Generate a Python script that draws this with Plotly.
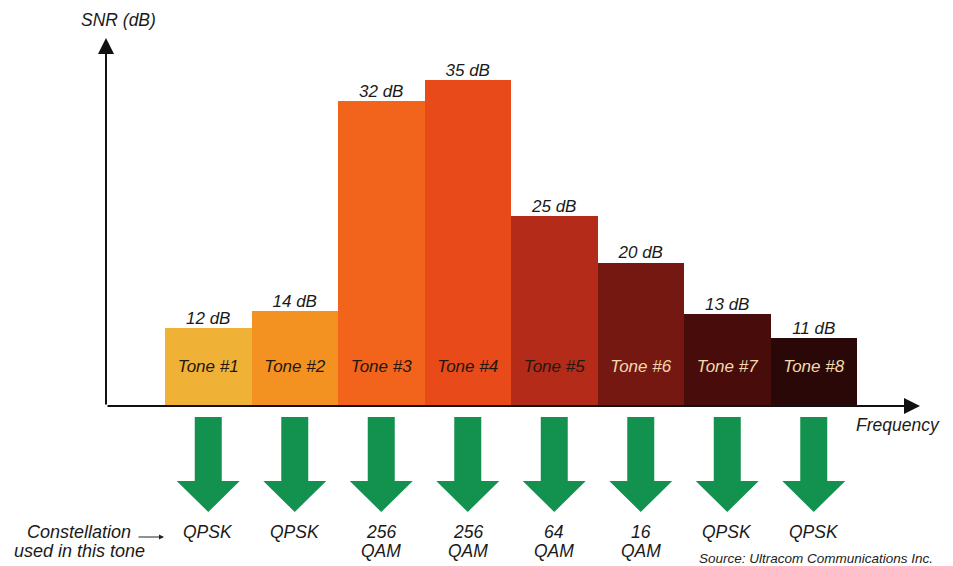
import plotly.graph_objects as go

# ---- data ----
tones = ["Tone #1", "Tone #2", "Tone #3", "Tone #4", "Tone #5", "Tone #6", "Tone #7", "Tone #8"]
snr_db = [12, 14, 32, 35, 25, 20, 13, 11]
# drawn bar heights as they appear in the picture (axis units, 35 dB bar = 35)
bar_height = [8.4, 10.2, 32.7, 35.0, 20.4, 15.4, 9.9, 7.3]
constellations = ["QPSK", "QPSK", "256 QAM", "256 QAM", "64 QAM", "16 QAM", "QPSK", "QPSK"]

# ---- styles ----
bar_colors = ["#efb136", "#f39221", "#f2631c", "#e84a19", "#b42b1a", "#741811", "#480d0a", "#2a0807"]
tone_text_colors = ["#24170f", "#24170f", "#24170f", "#24170f", "#24170f", "#f2d9ae", "#f2d9ae", "#f2d9ae"]
green = "#12914f"
FONT = "Liberation Sans, Arial, sans-serif"

x = list(range(len(tones)))
PLOT_H = 368.0   # plot height in px
PLOT_W = 814.0   # plot width in px
BODY = 8         # default page body margin


def py2paper(py):
    return (406.0 - py) / PLOT_H


def px2paper(px):
    return (px - 106.0) / PLOT_W


fig = go.Figure()

fig.add_trace(go.Bar(
    x=x, y=bar_height, width=1.0,
    marker=dict(color=bar_colors, line=dict(width=0)),
    hoverinfo="skip", showlegend=False,
))

# dB labels above the bars
fig.add_trace(go.Scatter(
    x=x, y=bar_height, mode="text",
    text=[f"{v} dB" for v in snr_db], textposition="top center",
    textfont=dict(family=FONT, size=17, color="#1a1a1a", style="italic"),
    cliponaxis=False, hoverinfo="skip", showlegend=False,
))

# tone labels inside the bars
tone_label_y = 4.08
fig.add_trace(go.Scatter(
    x=x, y=[tone_label_y] * len(x), mode="text",
    text=tones, textposition="middle center",
    textfont=dict(family=FONT, size=17, color=tone_text_colors, style="italic"),
    cliponaxis=False, hoverinfo="skip", showlegend=False,
))

shapes = []
annotations = []

# green down arrows under each tone
sh, hh = 0.156, 0.364
y_top, y_head, y_tip = py2paper(417), py2paper(481), py2paper(512)
for i in x:
    path = (f"M {i - sh},{y_top} L {i + sh},{y_top} L {i + sh},{y_head} "
            f"L {i + hh},{y_head} L {i},{y_tip} L {i - hh},{y_head} L {i - sh},{y_head} Z")
    shapes.append(dict(type="path", xref="x", yref="paper", path=path,
                       fillcolor=green, line=dict(width=0), layer="above"))

# constellation labels
for i, c in zip(x, constellations):
    parts = c.split(" ")
    for k, p in enumerate(parts):
        annotations.append(dict(
            x=i, y=py2paper(532 + 19 * k), xref="x", yref="paper",
            text=p, showarrow=False, xanchor="center", yanchor="middle",
            font=dict(family=FONT, size=17.5, color="#1a1a1a", style="italic"),
        ))

# axes with arrowheads
annotations.append(dict(x=0, y=1, xref="paper", yref="paper", ax=0, ay=PLOT_H,
                        text="", showarrow=True, arrowhead=2, arrowsize=1.6,
                        arrowwidth=2, arrowcolor="#111111", standoff=0))
annotations.append(dict(x=1, y=0, xref="paper", yref="paper", ax=-PLOT_W, ay=0,
                        text="", showarrow=True, arrowhead=2, arrowsize=1.6,
                        arrowwidth=2, arrowcolor="#111111", standoff=0))

# axis titles
annotations.append(dict(x=px2paper(118), y=py2paper(20), xref="paper", yref="paper",
                        text="SNR (dB)", showarrow=False, xanchor="center", yanchor="middle",
                        font=dict(family=FONT, size=17.5, color="#1a1a1a", style="italic")))
annotations.append(dict(x=px2paper(898), y=py2paper(425), xref="paper", yref="paper",
                        text="Frequency", showarrow=False, xanchor="center", yanchor="middle",
                        font=dict(family=FONT, size=17.5, color="#1a1a1a", style="italic")))

# left side caption
for k, t in enumerate(["Constellation", "used in this tone"]):
    annotations.append(dict(x=px2paper(79), y=py2paper(532 + 19 * k), xref="paper", yref="paper",
                            text=t, showarrow=False, xanchor="center", yanchor="middle",
                            font=dict(family=FONT, size=18, color="#1a1a1a", style="italic")))
annotations.append(dict(x=px2paper(164), y=py2paper(537), xref="paper", yref="paper",
                        ax=-27, ay=0, text="", showarrow=True, arrowhead=2, arrowsize=1,
                        arrowwidth=1, arrowcolor="#222222", standoff=0))

# source
annotations.append(dict(x=px2paper(935), y=py2paper(558), xref="paper", yref="paper",
                        text="Source: Ultracom Communications Inc.", showarrow=False,
                        xanchor="right", yanchor="middle",
                        font=dict(family=FONT, size=13.5, color="#222222", style="italic")))

fig.update_layout(
    width=953 - BODY, height=566 - BODY,
    margin=dict(l=106 - BODY, r=953 - 106 - int(PLOT_W), t=38 - BODY,
                b=566 - 38 - int(PLOT_H), pad=0),
    paper_bgcolor="white", plot_bgcolor="white",
    bargap=0,
    xaxis=dict(range=[-1.1821, 8.2283], visible=False, fixedrange=True),
    yaxis=dict(range=[0, PLOT_H * 35.0 / 326.0], visible=False, fixedrange=True),
    shapes=shapes, annotations=annotations,
    showlegend=False,
)

fig.write_html("out.html")
